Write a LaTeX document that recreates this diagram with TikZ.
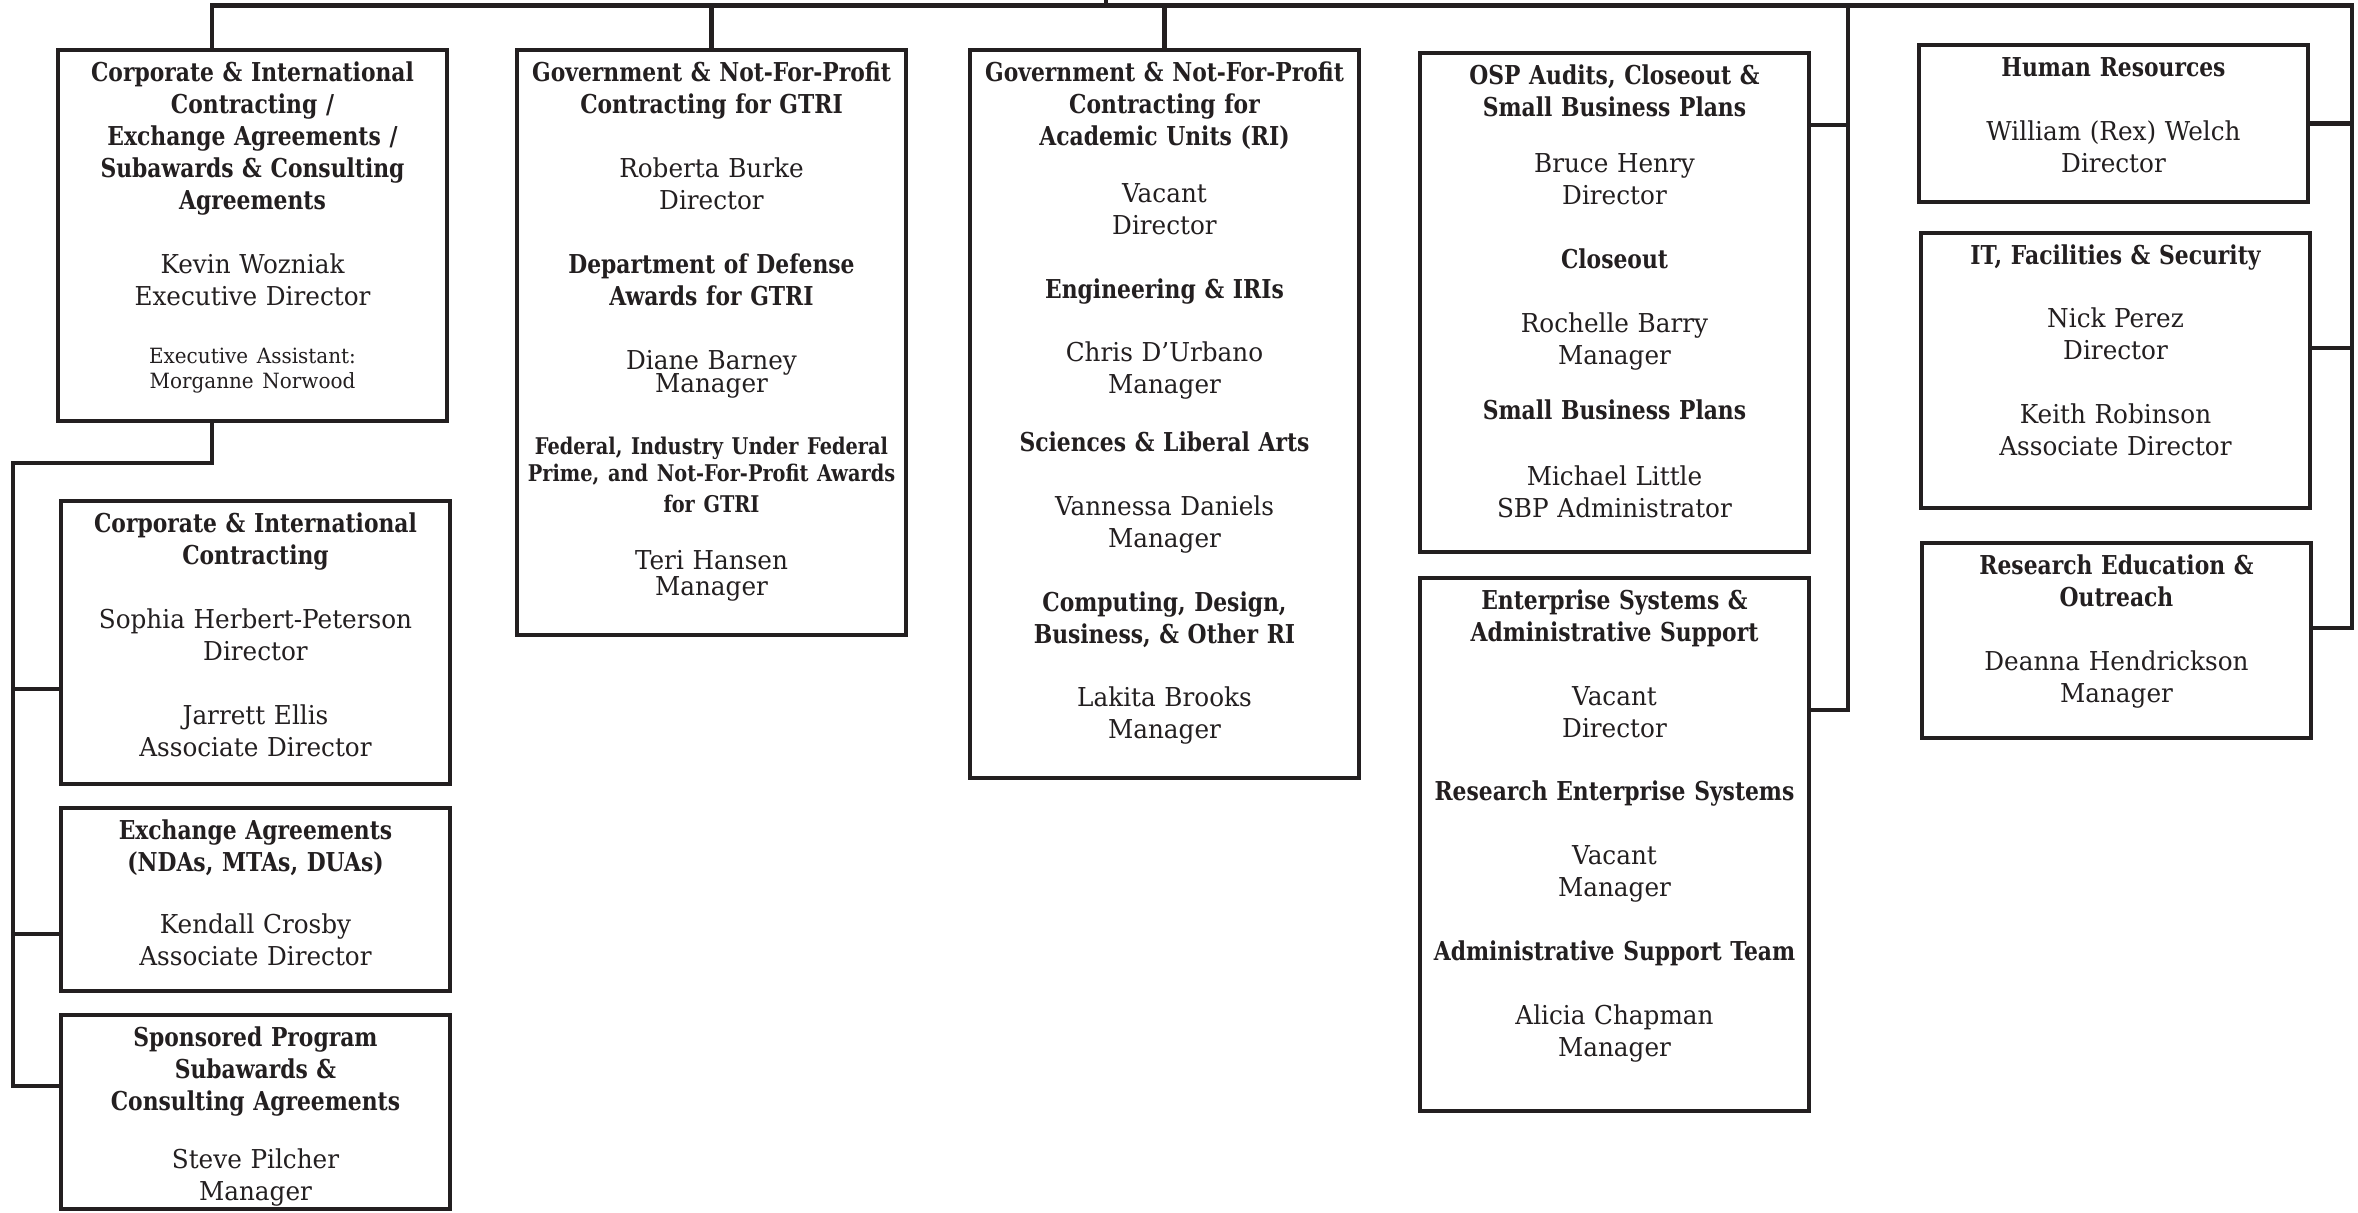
\documentclass[tikz,border=0pt]{standalone}
\usepackage{fontspec}
\setmainfont{DejaVu Serif}[FakeStretch=0.95]
\newfontfamily\headfont{DejaVu Serif Bold}[FakeStretch=0.84]
\definecolor{ink}{HTML}{231F20}
\newcommand{\orghead}[1]{{\headfont #1}}

\begin{document}
\begin{tikzpicture}[x=0.5pt,y=-0.5pt,
	unit/.style={draw=ink,line width=2.4pt,anchor=north west,outer sep=0pt,inner xsep=1pt,inner ysep=0pt,
		text width=192.5pt,text height=15.5pt,align=center,text=ink,font=\fontsize{13}{16}\selectfont},
	link/.style={draw=ink,line width=2.4pt}]
	\path[use as bounding box,fill=white] (0,0) rectangle (2358,1212);

	% first row
	\node (corpintl) at (58,50)[unit,text depth=170pt] {\orghead{Corporate \& International\\Contracting /\\Exchange Agreements /\\Subawards \& Consulting\\Agreements}\\[16pt]
		Kevin Wozniak\\Executive Director\\[17pt]
		{\fontsize{10.5}{12}\selectfont Executive Assistant:\\[-3.2pt]Morganne Norwood}};
	\node (govgtri) at (517,50)[unit,text depth=277pt] {\orghead{Government \& Not-For-Profit\\Contracting for GTRI}\\[16pt]
		Roberta Burke\\Director\\[16pt]
		\orghead{Department of Defense\\Awards for GTRI}\\[16pt]
		Diane Barney\\[-4.3pt]Manager\\[17pt]
		{\headfont\fontsize{11.5}{14}\selectfont Federal, Industry Under Federal\\[-0.5pt]Prime, and Not-For-Profit Awards\\[-0.5pt]for GTRI}\\[12.5pt]
		Teri Hansen\\[-2.8pt]Manager};
	\node (govacad) at (970,50)[unit,text depth=348.5pt] {\orghead{Government \& Not-For-Profit\\Contracting for\\Academic Units (RI)}\\[12.6pt]
		Vacant\\Director\\[16pt]
		\orghead{Engineering \& IRIs}\\[15.5pt]
		Chris D’Urbano\\Manager\\[13.3pt]
		\orghead{Sciences \& Liberal Arts}\\[16pt]
		Vannessa Daniels\\Manager\\[16pt]
		\orghead{Computing, Design,\\Business, \& Other RI}\\[15.5pt]
		Lakita Brooks\\Manager};
	\node (osp) at (1420,53)[unit,text depth=234pt] {\orghead{OSP Audits, Closeout \&\\Small Business Plans}\\[12pt]
		Bruce Henry\\Director\\[16pt]
		\orghead{Closeout}\\[16pt]
		Rochelle Barry\\Manager\\[11.8pt]
		\orghead{Small Business Plans}\\[17pt]
		Michael Little\\SBP Administrator};
	\node (enterprise) at (1420,578)[unit,text depth=251pt] {\orghead{Enterprise Systems \&\\Administrative Support}\\[16pt]
		Vacant\\Director\\[15.5pt]
		\orghead{Research Enterprise Systems}\\[16pt]
		Vacant\\Manager\\[16pt]
		\orghead{Administrative Support Team}\\[16pt]
		Alicia Chapman\\Manager};

	% right column
	\node (hr) at (1919,45)[unit,text depth=63pt] {\orghead{Human Resources}\\[16pt]
		William (Rex) Welch\\Director};
	\node (itfac) at (1921,233)[unit,text depth=122pt] {\orghead{IT, Facilities \& Security}\\[15.5pt]
		Nick Perez\\Director\\[16pt]
		Keith Robinson\\Associate Director};
	\node (reo) at (1922,543)[unit,text depth=82pt] {\orghead{Research Education \&\\Outreach}\\[16pt]
		Deanna Hendrickson\\Manager};

	% left column
	\node (corpcon) at (61,501)[unit,text depth=126pt] {\orghead{Corporate \& International\\Contracting}\\[16pt]
		Sophia Herbert-Peterson\\Director\\[16pt]
		Jarrett Ellis\\Associate Director};
	\node (exchange) at (61,808)[unit,text depth=76pt] {\orghead{Exchange Agreements\\(NDAs, MTAs, DUAs)}\\[15pt]
		Kendall Crosby\\Associate Director};
	\node (sponsored) at (61,1015)[unit,text depth=81.5pt] {\orghead{Sponsored Program\\Subawards \&\\Consulting Agreements}\\[13.3pt]
		Steve Pilcher\\Manager};

	% connectors
	\coordinate (head) at (1106,0);
	\coordinate (busL) at (212,5.5);
	\coordinate (busM) at (1848,5.5);
	\coordinate (busR) at (2352,5.5);
	\coordinate (tapOsp) at (1848,125);
	\coordinate (tapEnt) at (1848,710);
	\coordinate (tapIt) at (2352,348);
	\coordinate (tapReo) at (2352,628);
	\coordinate (dropL) at (212,463);
	\coordinate (bendL) at (13,463);
	\coordinate (tapCorp) at (13,689);
	\coordinate (tapExch) at (13,934);
	\coordinate (tapSpon) at (13,1086);

	\draw[link] (head) -- (head |- busL);
	\draw[link] (corpintl.north -| busL) -- (busL) -- (busR) -- (tapReo) -- (tapReo -| reo.east);
	\draw[link] (govgtri.north) -- (govgtri.north |- busL);
	\draw[link] (govacad.north) -- (govacad.north |- busL);
	\draw[link] (busM) -- (tapEnt) -- (tapEnt -| enterprise.east);
	\draw[link] (tapOsp) -- (tapOsp -| osp.east);
	\draw[link] (hr.east) -- (hr.east -| busR);
	\draw[link] (tapIt) -- (tapIt -| itfac.east);
	\draw[link] (corpintl.south -| dropL) -- (dropL) -- (bendL) -- (tapSpon) -- (tapSpon -| sponsored.west);
	\draw[link] (tapCorp) -- (tapCorp -| corpcon.west);
	\draw[link] (tapExch) -- (tapExch -| exchange.west);
\end{tikzpicture}
\end{document}
